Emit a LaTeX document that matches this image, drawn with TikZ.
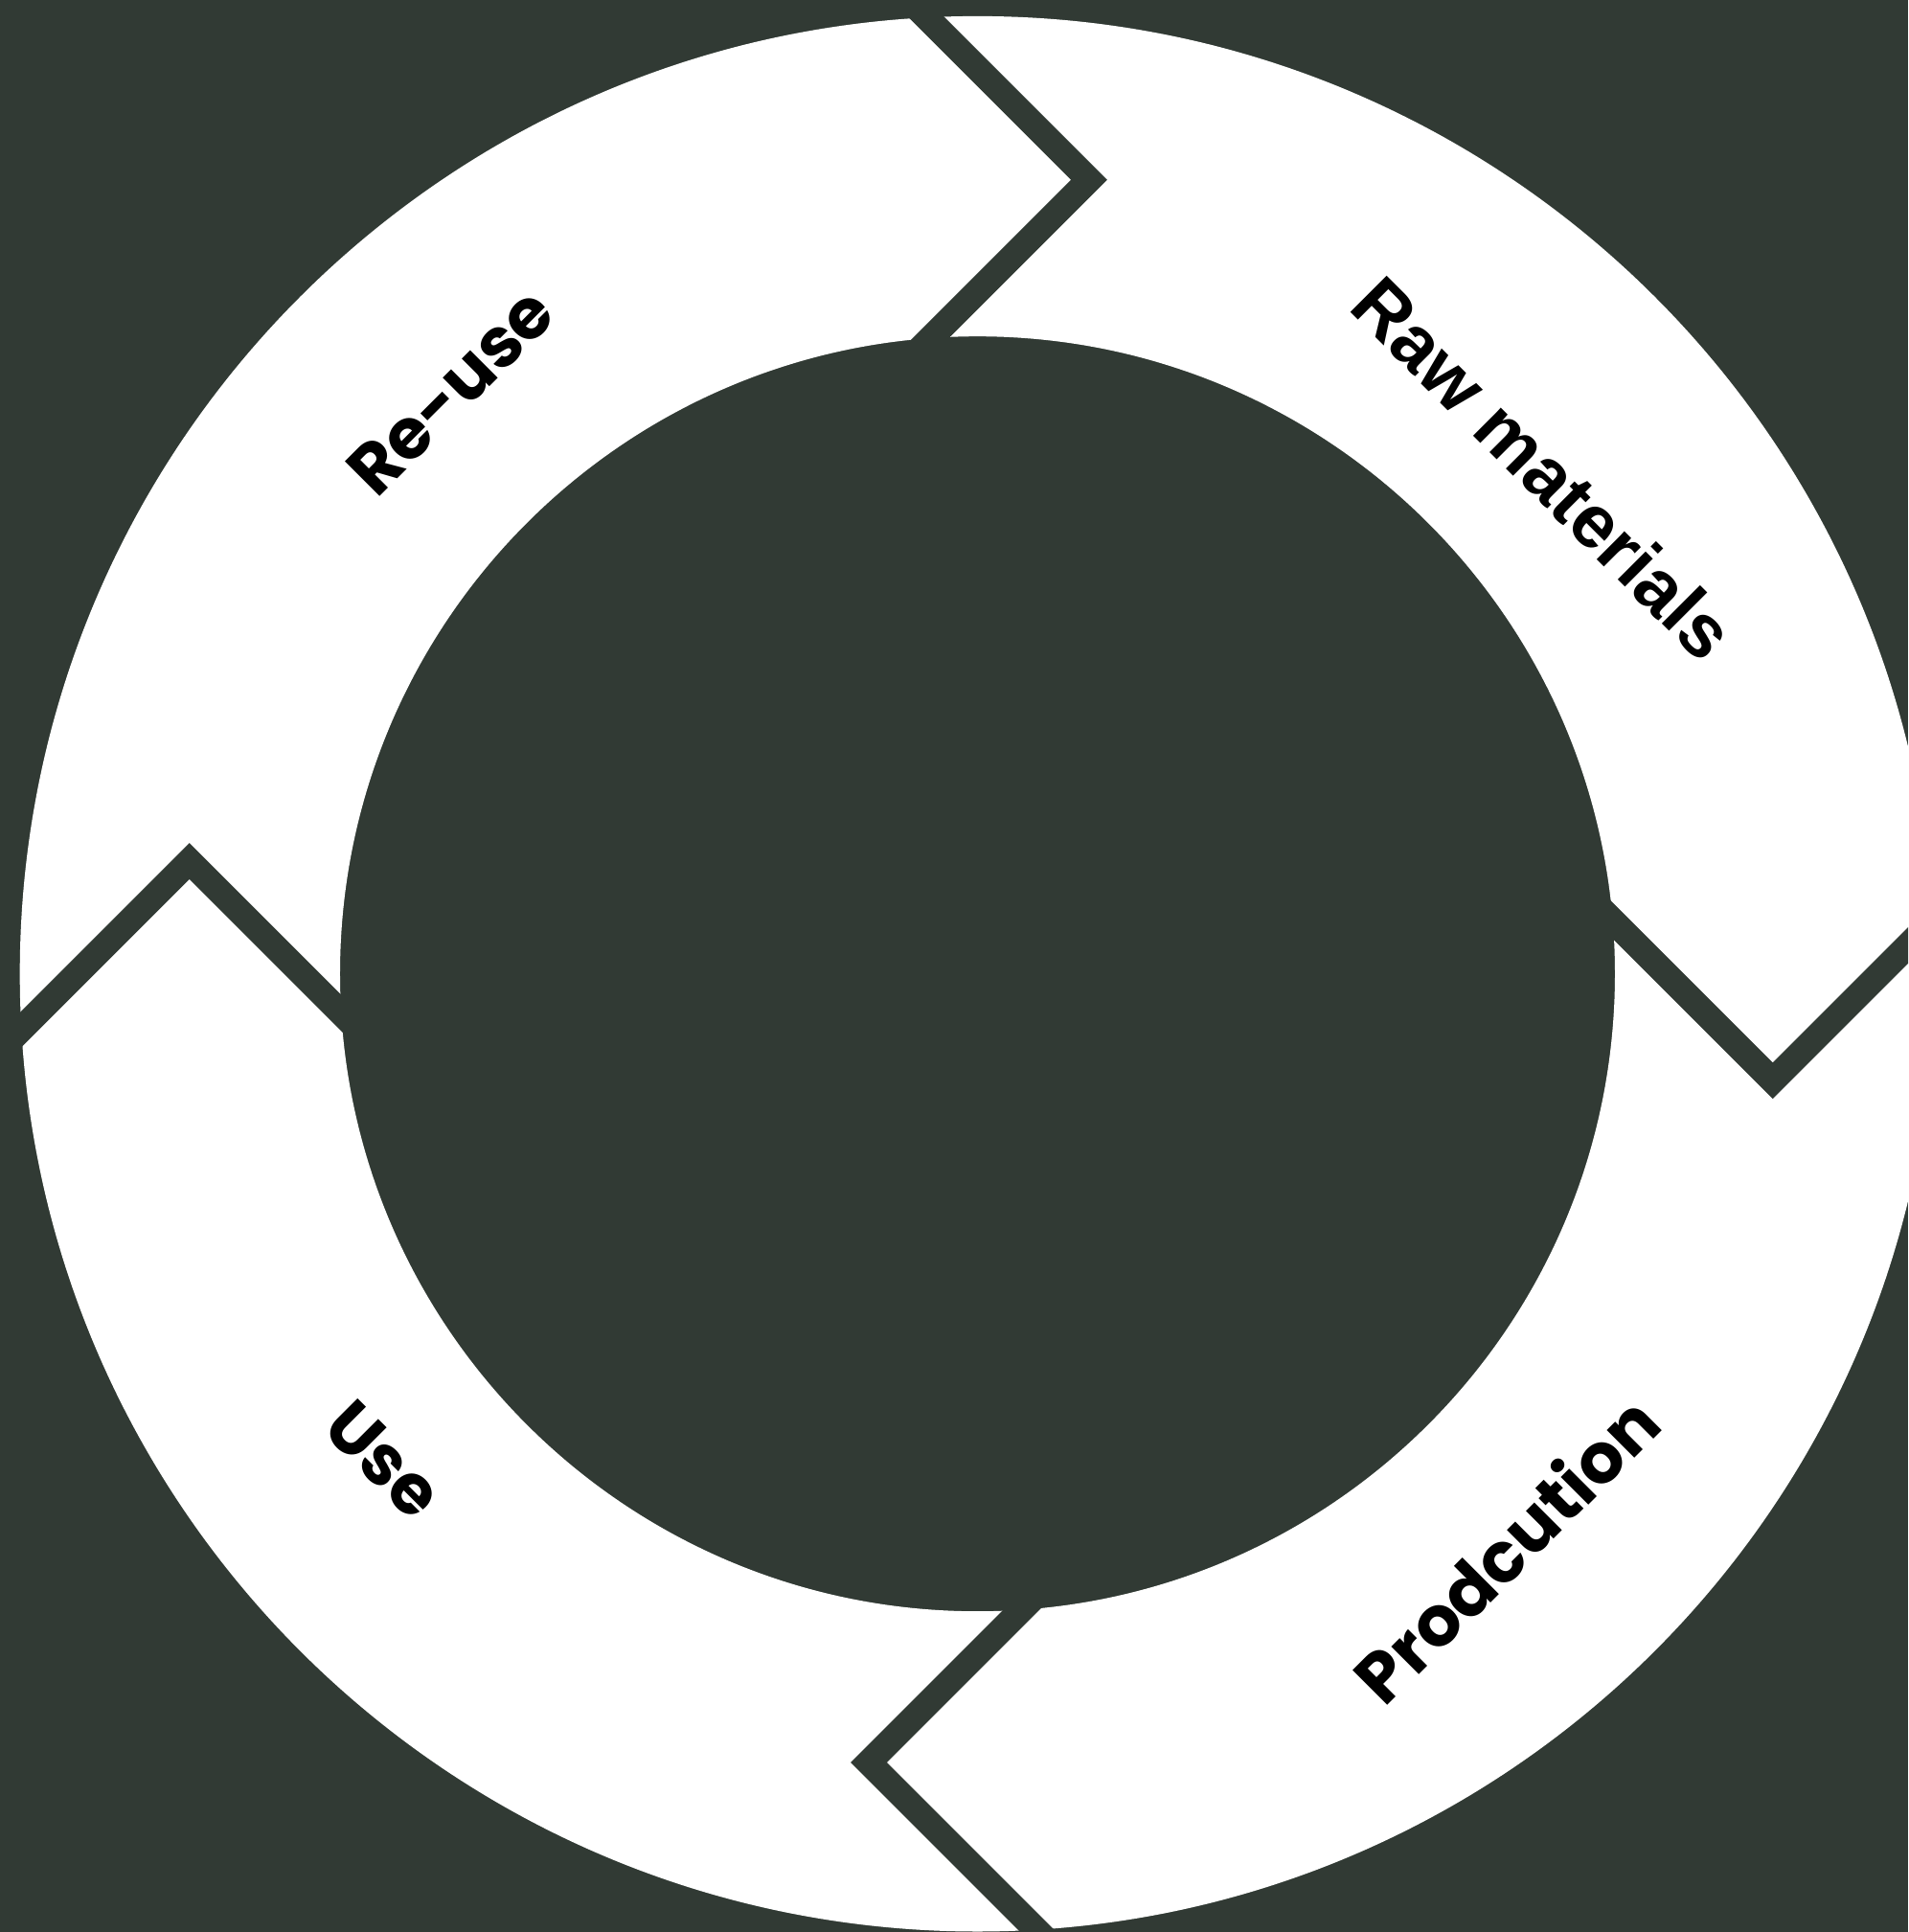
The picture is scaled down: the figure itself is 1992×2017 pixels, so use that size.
\documentclass[tikz,border=0pt]{standalone}
\usepackage{fontspec}
\setmainfont{Liberation Sans}
\newfontfamily\popfont{Poppins}
\definecolor{bg}{RGB}{49,58,52}
\begin{document}
\begin{tikzpicture}[x=0.5pt,y=0.5pt,
  sep/.style={draw=bg, line width=13.35pt, line join=miter},
  labA/.style={font=\popfont\bfseries\fontsize{36.5}{42}\selectfont, text=black, inner sep=0pt, anchor=center},
  labB/.style={font=\rmfamily\bfseries\fontsize{39}{45}\selectfont, text=black, inner sep=0pt, anchor=center}]
\useasboundingbox (-1020.5,-1000.3) rectangle (971.5,1016.7);
\fill[bg] (-1020.5,-1000.3) rectangle (971.5,1016.7);
\begin{scope}
  \clip (-1020.5,-1000.3) rectangle (971.5,1016.7);
  \fill[white, even odd rule] (0,0) circle (999.8) (0,0) circle (665.5);
  % top
  \draw[sep] (116.5,829) ++(-250,250) -- (116.5,829) -- ++(-250,-250);
  % right
  \draw[sep] (830.2,-111.6) ++(-250,250) -- (830.2,-111.6) -- ++(250,250);
  % bottom
  \draw[sep] (-113.5,-823.3) ++(250,250) -- (-113.5,-823.3) -- ++(250,-250);
  % left
  \draw[sep] (-822.8,117.7) ++(-250,-250) -- (-822.8,117.7) -- ++(250,-250);
\end{scope}
\node[labA, rotate=45]  (reuse) at (-550,608) {Re-use};
\node[labB, rotate=-45] (raw)   at (591,528)  {Raw materials};
\node[labA, rotate=45]  (prod)  at (551,-600) {Prodcution};
\node[labA, rotate=-45] (use)   at (-620,-507) {Use};
\end{tikzpicture}
\end{document}
